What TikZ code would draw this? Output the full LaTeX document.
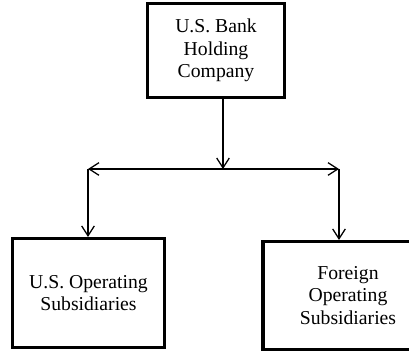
\documentclass[tikz,border=0pt]{standalone}
\usepackage{fontspec}
\setmainfont{Liberation Serif}
\usetikzlibrary{arrows.meta}

\tikzset{
    orgbox/.style={draw=black, line width=2.2pt, align=center, inner sep=0pt,
        font=\fontsize{14}{16}\selectfont},
    link/.style={draw=black, line width=0.9pt, arrows={-Straight Barb[length=7pt, width=9pt]}}
}

\begin{document}
\begin{tikzpicture}[x=0.025cm, y=-0.025cm]
        \useasboundingbox (0, 0) rectangle (409, 352);

        \node[orgbox, minimum width=137*0.025cm, minimum height=94*0.025cm] (holding) at (216, 50.5) {U.S. Bank\\Holding\\Company};
        \node[orgbox, minimum width=152*0.025cm, minimum height=109*0.025cm] (usops) at (88.5, 293) {U.S. Operating\\Subsidiaries};
        \node[orgbox, minimum width=170*0.025cm, minimum height=108*0.025cm] (foreignops) at (348, 295.5) {Foreign\\Operating\\Subsidiaries};

        \coordinate (split) at (223, 169);
        \coordinate (leftend) at (88, 169);
        \coordinate (rightend) at (339, 169);

        \path[link] (holding.south -| split) -- (split);
        \path[link, arrows={Straight Barb[length=7pt, width=9pt]-Straight Barb[length=7pt, width=9pt]}] (leftend) -- (rightend);
        \path[link] (leftend) -- (usops.north -| leftend);
        \path[link] (rightend) -- (foreignops.north -| rightend);
    \end{tikzpicture}
\end{document}
